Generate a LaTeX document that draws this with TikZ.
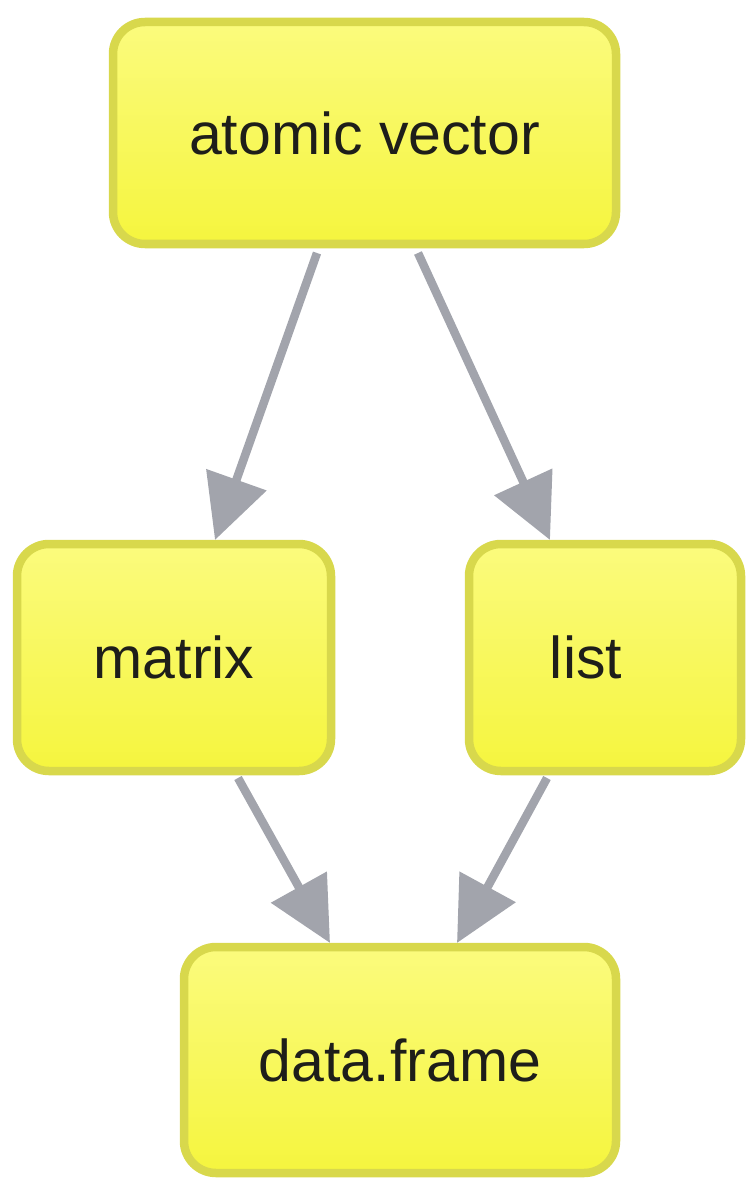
\documentclass[tikz,border=0pt]{standalone}
\usepackage{fontspec}
\setmainfont{Liberation Sans}
\usetikzlibrary{arrows.meta,calc}

\definecolor{boxedge}{RGB}{216,216,76}
\definecolor{boxtop}{RGB}{251,251,125}
\definecolor{boxmid}{RGB}{253,253,148}
\definecolor{boxbot}{RGB}{245,245,62}
\definecolor{linkgray}{RGB}{162,164,172}
\definecolor{labelink}{RGB}{30,30,26}

\tikzset{
  typebox/.style={draw=boxedge, line width=8.5pt, rounded corners=32pt,
    top color=boxtop, middle color=boxmid, bottom color=boxbot,
    inner sep=0pt, outer sep=0pt, text=labelink,
    font=\fontsize{59}{65}\selectfont},
  link/.style={draw=linkgray, line width=8.5pt,
    -{Triangle[length=64pt,width=62pt]}}
}

\begin{document}
\begin{tikzpicture}[x=1pt,y=-1pt]
  \useasboundingbox (0,0) rectangle (747,1182);

  % type nodes
  \node[typebox, minimum width=503pt, minimum height=222pt] (atom) at (364.5,133) {atomic vector};
  \node[typebox, minimum width=314pt, minimum height=227pt] (mat) at (174,657.5) {matrix};
  \node[typebox, minimum width=272pt, minimum height=227pt] (lst) at (605,657.5) {list\hspace*{38pt}};
  \node[typebox, minimum width=432pt, minimum height=226pt] (df) at (400,1060) {data.frame};

  % derivation links
  \draw[link] ($(atom.south west)+(204,9)$) -- ($(mat.north west)+(198,-4)$);
  \draw[link] ($(atom.south west)+(305,9)$) -- ($(lst.north west)+(81,-4)$);
  \draw[link] ($(mat.south west)+(221,7)$) -- ($(df.north west)+(146,-4)$);
  \draw[link] ($(lst.south west)+(78,7)$) -- ($(df.north west)+(273,-4)$);
\end{tikzpicture}
\end{document}
